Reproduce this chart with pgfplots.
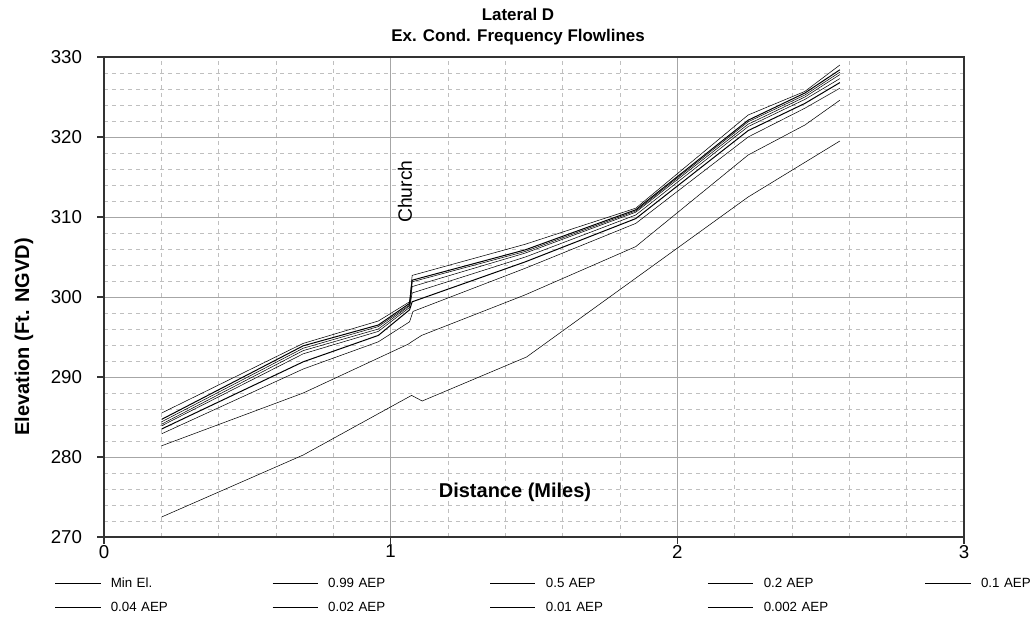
\documentclass[border=0pt]{standalone}
\usepackage{fontspec}
\setmainfont{Liberation Sans}
\usepackage{pgfplots}
\pgfplotsset{compat=1.18}
\definecolor{majgrid}{HTML}{A6A6A6}
\definecolor{mingrid}{HTML}{BFBFBF}
\definecolor{axcol}{HTML}{333333}
\begin{document}
\begin{tikzpicture}
\path[use as bounding box] (-78pt,-65.25pt) rectangle (697.5pt,402.75pt);
\begin{axis}[
  name=ax, at={(0pt,0pt)}, anchor=south west,
  scale only axis, width=645pt, height=360pt,
  xmin=0, xmax=3, ymin=270, ymax=330,
  xtick={0,1,2,3}, ytick={270,280,...,330},
  minor x tick num=4, minor y tick num=4,
  grid=both,
  major grid style={majgrid, line width=0.6pt},
  minor grid style={mingrid, dashed, line width=0.5pt},
  axis line style={axcol, line width=1.1pt},
  tick style={axcol, line width=0.8pt},
  major tick length=5pt, minor tick length=0pt,
  tick align=outside, xtick pos=bottom, ytick pos=left,
  /pgf/number format/assume math mode=true,
  ticklabel style={font=\fontsize{14}{16}\selectfont},
  xticklabel style={yshift=2.5pt},
  yticklabel style={xshift=-8pt},
  cycle list={{black, solid, mark=none, line width=0.75pt}},
  legend columns=5,
  legend image code/.code={\draw[#1] (0pt,0pt) -- (34pt,0pt);},
  legend style={draw=none, fill=none, at={(rel axis cs:-0.062,-0.077)}, anchor=north west,
    column sep=7.5pt, row sep=8pt,
    font=\fontsize{10}{12}\selectfont,
    nodes={inner xsep=0pt, inner ysep=0pt, text width=113pt, align=left, text height=8pt, text depth=2pt}},
  legend cell align=left,
  /tikz/every even column/.append style={column sep=8.1pt},
]
\addplot coordinates {(0.201,272.5) (0.695,280.25) (1.073,287.7) (1.110,287.0) (1.474,292.5) (2.247,312.5) (2.567,319.5)};
\addlegendentry{Min El.}
\addplot coordinates {(0.201,281.4) (0.695,288.0) (1.061,294.1) (1.073,294.4) (1.108,295.2) (1.468,300.25) (1.855,306.3) (2.247,317.75) (2.445,321.5) (2.567,324.6)};
\addlegendentry{0.99 AEP}
\addplot coordinates {(0.201,282.9) (0.695,291.0) (0.957,294.4) (1.066,296.9) (1.078,298.2) (1.47,303.6) (1.855,309.2) (2.247,320.0) (2.445,323.6) (2.567,326.1)};
\addlegendentry{0.5 AEP}
\addplot coordinates {(0.201,283.5) (0.695,291.9) (0.957,295.2) (1.066,298.4) (1.075,299.4) (1.47,304.4) (1.855,309.8) (2.247,320.8) (2.445,324.2) (2.567,326.8)};
\addlegendentry{0.2 AEP}
\addplot coordinates {(0.201,283.9) (0.695,292.9) (0.957,295.7) (1.066,298.7) (1.075,300.5) (1.47,305.0) (1.855,310.25) (2.247,321.3) (2.445,324.7) (2.567,327.3)};
\addlegendentry{0.1 AEP}
\addplot coordinates {(0.201,284.1) (0.695,293.3) (0.957,296.0) (1.066,298.9) (1.075,301.3) (1.47,305.5) (1.855,310.6) (2.247,321.6) (2.445,325.0) (2.567,327.8)};
\addlegendentry{0.04 AEP}
\addplot coordinates {(0.201,284.4) (0.695,293.6) (0.957,296.3) (1.066,299.0) (1.075,301.9) (1.47,305.7) (1.855,310.75) (2.247,321.9) (2.445,325.25) (2.567,328.1)};
\addlegendentry{0.02 AEP}
\addplot coordinates {(0.201,284.7) (0.695,293.9) (0.957,296.5) (1.066,299.2) (1.075,302.1) (1.47,305.9) (1.855,310.9) (2.247,322.1) (2.445,325.5) (2.567,328.4)};
\addlegendentry{0.01 AEP}
\addplot coordinates {(0.201,285.5) (0.695,294.2) (0.957,297.0) (1.066,299.4) (1.075,302.7) (1.47,306.6) (1.855,311.1) (2.247,322.75) (2.445,325.7) (2.567,329.0)};
\addlegendentry{0.002 AEP}
\end{axis}
\node[font=\bfseries\fontsize{12.7}{14}\selectfont] at (310.5pt,392pt) {Lateral D};
\node[font=\bfseries\fontsize{12.7}{14}\selectfont] at (310.5pt,375pt) {Ex. Cond. Frequency Flowlines};
\node[font=\bfseries\fontsize{15}{17}\selectfont, rotate=90] at (-60pt,150pt) {Elevation (Ft. NGVD)};
\node[font=\bfseries\fontsize{15}{17}\selectfont] at (308.25pt,33.75pt) {Distance (Miles)};
\node[font=\fontsize{14.5}{16}\selectfont, rotate=90] at (225.75pt,259pt) {Church};
\end{tikzpicture}
\end{document}
